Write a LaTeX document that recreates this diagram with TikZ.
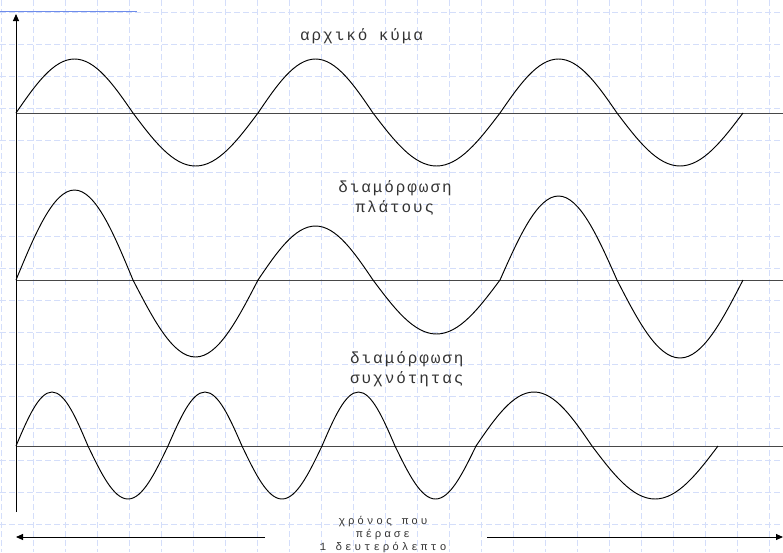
\documentclass[tikz,border=0pt]{standalone}
\usepackage{fontspec}
\setmainfont{Liberation Serif}
\newfontfamily\grmono[LetterSpace=12]{Liberation Mono}
\newfontfamily\grmonosmall[LetterSpace=26]{Liberation Mono}
\usetikzlibrary{arrows.meta}
\definecolor{gridblue}{RGB}{212,222,250}
\definecolor{topblue}{RGB}{110,140,235}
\newcommand\halfwave[4]{\draw[wave] (#1,#3) sin ({(#1+#2)/2},{#3-(#4)}) cos (#2,#3);}
\begin{document}
\begin{tikzpicture}[x=1pt,y=-1pt,
  gridline/.style={gridblue, line width=0.7pt, dash pattern=on 6pt off 3pt},
  wave/.style={black, line width=0.95pt},
  axisline/.style={black!72, line width=1pt},
  label/.style={font=\grmono\fontsize{16}{20}\selectfont, text=black!80, inner sep=0pt},
  small/.style={font=\grmonosmall\fontsize{11}{13}\selectfont, text=black!80, inner sep=0pt, align=center},
  arr/.style={black, line width=0.9pt, -{Triangle[length=7pt,width=6pt]}}
]
\useasboundingbox (0,0) rectangle (783,552);
% grid
\foreach \i in {0,...,24} \draw[gridline] ({1+32*\i},0) -- ({1+32*\i},552);
\foreach \j in {0,...,16} \draw[gridline] (0,{12+32*\j}) -- (783,{12+32*\j});
\draw[topblue, line width=1pt] (0,11) -- (137,11);
% axes
\coordinate (o1) at (16,113); \coordinate (e1) at (783,113);
\coordinate (o2) at (16,280); \coordinate (e2) at (783,280);
\coordinate (o3) at (16,446); \coordinate (e3) at (783,446);
\draw[axisline] (o1) -- (e1);
\draw[axisline] (o2) -- (e2);
\draw[axisline] (o3) -- (e3);
\coordinate (vb) at (16,512); \coordinate (vt) at (16,14);
\draw[arr] (vb) -- (vt);
% waves
\foreach \a/\b/\A in {16/133/54,133/258/-53,258/373/54,373/500/-53,500/617/54,617/743/-53} {\halfwave{\a}{\b}{113}{\A}}
\foreach \a/\b/\A in {16/133/90,133/258/-77,258/373/54,373/500/-54,500/617/84,617/743/-78} {\halfwave{\a}{\b}{280}{\A}}
\foreach \a/\b/\A in {16/88/54,88/168/-53,168/242/54,242/322/-53,322/395/54,395/476/-53,476/592/54,592/718/-53} {\halfwave{\a}{\b}{446}{\A}}
% labels
\node[label, anchor=west] (t1) at (300,36) {αρχικό κύμα};
\node[label, align=center] (t2) at (395,198) {διαμόρφωση\\πλάτους};
\node[label, align=left, anchor=west] (t3) at (350,369) {διαμόρφωση\\συχνότητας};
\node[small] (time) at (383,535) {χρόνος που\\πέρασε\\1 δευτερόλεπτο};
% time arrows
\coordinate (la) at (265,537); \coordinate (lt) at (16,537);
\coordinate (ra) at (487,537); \coordinate (rt) at (783,537);
\draw[arr] (la) -- (lt);
\draw[arr] (ra) -- (rt);
\end{tikzpicture}
\end{document}
